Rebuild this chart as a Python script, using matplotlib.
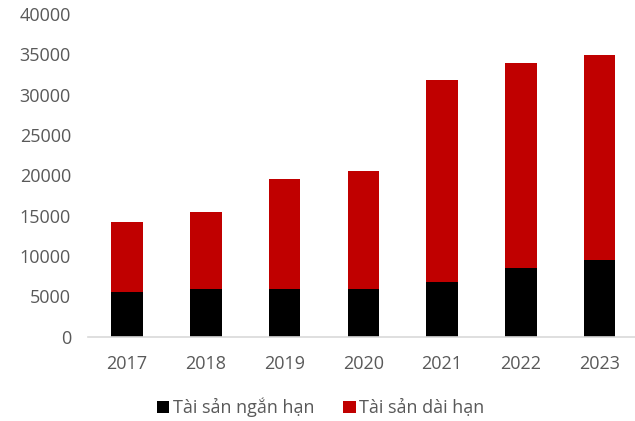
import matplotlib.pyplot as plt

years = ['2017', '2018', '2019', '2020', '2021', '2022', '2023']
short_term = [5550, 5930, 5930, 5930, 6720, 8530, 9450]
total_assets = [14240, 15440, 19570, 20490, 31810, 33920, 34910]
long_term = [t - s for t, s in zip(total_assets, short_term)]

plt.rcParams['font.family'] = ['Open Sans', 'DejaVu Sans']

fig = plt.figure(figsize=(6.35, 4.21), dpi=100)
ax = fig.add_axes([0.138, 0.2007, 0.862, 0.766])

x = range(len(years))
ax.bar(x, short_term, width=0.4, color='black', label='Tài sản ngắn hạn')
ax.bar(x, long_term, width=0.4, bottom=short_term, color='#C00000', label='Tài sản dài hạn')

ax.set_xlim(-0.5, 6.45)
ax.set_ylim(0, 40000)
ax.set_yticks(range(0, 40001, 5000))
ax.set_xticks(list(x))
ax.set_xticklabels(years)

for s in ['top', 'right', 'left']:
    ax.spines[s].set_visible(False)
ax.spines['bottom'].set_color('#D9D9D9')
ax.spines['bottom'].set_linewidth(1.2)
ax.tick_params(axis='both', length=0, labelsize=13, colors='#595959')
ax.tick_params(axis='y', pad=12)
ax.tick_params(axis='x', pad=13)

fig.legend(loc='lower center', bbox_to_anchor=(0.505, -0.03), ncol=2, frameon=False,
           fontsize=13, handlelength=0.7, handleheight=0.7, handletextpad=0.2,
           columnspacing=1.6, labelcolor='#595959')

fig.savefig('out.png', dpi=100)
